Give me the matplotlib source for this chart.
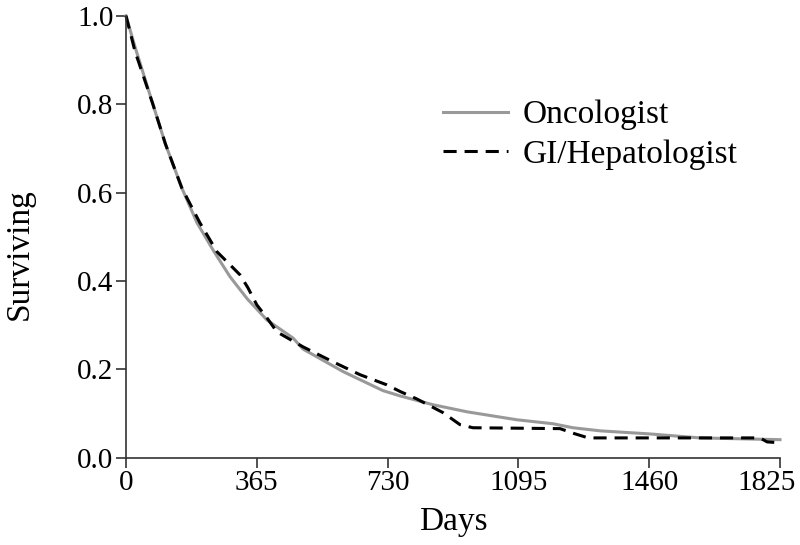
import matplotlib.pyplot as plt
from matplotlib.transforms import ScaledTranslation

plt.rcParams['font.family'] = ['Liberation Serif', 'DejaVu Serif']

# Oncologist (gray solid)
onc_days = [0, 25, 75, 110, 156, 198, 243, 290, 338, 393, 466, 494, 606, 717,
            765, 857, 952, 1091, 1192, 1247, 1323, 1462, 1602, 1825]
onc_surv = [1.0, 0.93, 0.80, 0.71, 0.61, 0.532, 0.47, 0.41, 0.36, 0.312, 0.271,
            0.246, 0.195, 0.152, 0.14, 0.12, 0.104, 0.086, 0.077, 0.068, 0.061,
            0.054, 0.045, 0.041]

# GI/Hepatologist (black dashed)
gi_days = [0, 25, 75, 110, 156, 206, 254, 285, 318, 340, 365, 393, 421, 494, 578,
           653, 728, 765, 812, 885, 932, 968, 1211, 1250, 1290, 1769, 1789, 1825]
gi_surv = [1.0, 0.92, 0.80, 0.71, 0.61, 0.532, 0.466, 0.441, 0.414, 0.385, 0.346,
           0.317, 0.285, 0.251, 0.217, 0.188, 0.165, 0.15, 0.133, 0.102, 0.075,
           0.068, 0.066, 0.055, 0.045, 0.045, 0.036, 0.034]

xticks = [0, 365, 730, 1095, 1460, 1825]
yticks = [0.0, 0.2, 0.4, 0.6, 0.8, 1.0]

fig = plt.figure(figsize=(8, 5.45), dpi=100)
ax = fig.add_axes([0.1575, 0.16, 0.8175, 0.811])

ax.plot(onc_days, onc_surv, color='#999999', lw=2.2, label='Oncologist', clip_on=False)
ax.plot(gi_days, gi_surv, color='black', lw=2.2, dashes=(4.3, 2.6),
        label='GI/Hepatologist', clip_on=False)

ax.set_xlim(0, 1825)
ax.set_ylim(0, 1.0)
ax.set_xticks(xticks)
ax.set_yticks(yticks)
ax.set_yticklabels(['%.1f' % v for v in yticks])

for s in ['top', 'right']:
    ax.spines[s].set_visible(False)
for s in ['left', 'bottom']:
    ax.spines[s].set_color('#333333')
    ax.spines[s].set_linewidth(1.2)
ax.tick_params(direction='out', length=7, width=1.2, color='#333333',
               labelsize=21, pad=2)

# last x label sits a little left so it stays inside the figure
last = ax.get_xticklabels()[-1]
last.set_transform(last.get_transform() + ScaledTranslation(-0.13, 0, fig.dpi_scale_trans))

ax.set_xlabel('Days', fontsize=24, labelpad=7)
ax.set_ylabel('Surviving', fontsize=24)
ax.yaxis.set_label_coords(-0.14, 0.46)

ax.legend(loc='upper left', bbox_to_anchor=(0.485, 0.81), frameon=False,
          fontsize=24, handlelength=1.95, handletextpad=0.42, labelspacing=0.27,
          borderpad=0, borderaxespad=0)

fig.savefig('out.png', dpi=100)
